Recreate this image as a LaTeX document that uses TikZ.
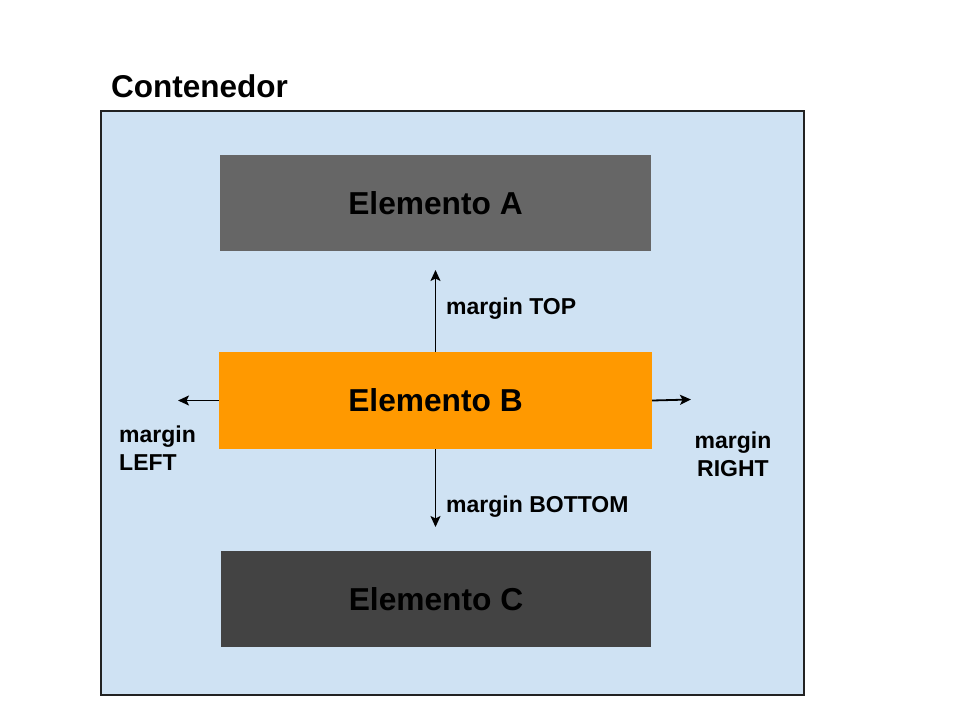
\documentclass[tikz,border=0pt]{standalone}
\usepackage{fontspec}
\setmainfont{Liberation Sans}
\usetikzlibrary{arrows.meta}
\definecolor{contbg}{HTML}{CFE2F3}
\definecolor{contline}{HTML}{222222}
\definecolor{elA}{HTML}{666666}
\definecolor{elB}{HTML}{FF9900}
\definecolor{elC}{HTML}{434343}
\begin{document}
\begin{tikzpicture}[x=1pt,y=-1pt,
  elem/.style={rectangle, draw=none, inner sep=0pt, minimum width=431pt, minimum height=96pt,
    font=\fontsize{31.7}{36}\selectfont\bfseries, text=black},
  marg/.style={inner sep=0pt, font=\fontsize{23}{28}\selectfont\bfseries, text=black},
  marrow/.style={line width=1.8pt, -{Stealth[length=11pt,width=10pt,inset=2.5pt]}}]
\useasboundingbox (0,0) rectangle (960,720);
\fill[white] (0,0) rectangle (960,720);
\node[draw=contline, fill=contbg, line width=1.3pt, inner sep=0pt, minimum width=703pt, minimum height=584pt] (cont) at (452.5,403) {};
\node[anchor=west, inner sep=0pt, font=\fontsize{31.5}{36}\selectfont\bfseries] (title) at (111,86) {Contenedor};
\node[elem, fill=elA] (A) at (435.5,203) {\raisebox{-2pt}{Elemento A}};
\node[elem, fill=elB, minimum width=433pt, minimum height=97pt] (B) at (435.5,400.5) {\raisebox{-2pt}{Elemento B}};
\node[elem, fill=elC, minimum width=430pt] (C) at (436,599) {\raisebox{-2pt}{Elemento C}};
\coordinate (topend) at (435.5,270);
\coordinate (botend) at (435.5,527);
\coordinate (leftend) at (178,400.5);
\coordinate (rightend) at (691,399.5);
\draw[marrow] (B.north) -- (topend);
\draw[marrow] (B.south) -- (botend);
\draw[marrow] (B.west) -- (leftend);
\draw[marrow] (B.east) -- (rightend);
\node[marg, anchor=west] (mtop) at (446,309) {margin TOP};
\node[marg, anchor=west] (mbot) at (446,507) {margin BOTTOM};
\node[marg, anchor=north west, align=left] (mleft) at (119,426) {margin\\LEFT};
\node[marg, anchor=north, align=center] (mright) at (733,432) {margin\\RIGHT};
\end{tikzpicture}
\end{document}
